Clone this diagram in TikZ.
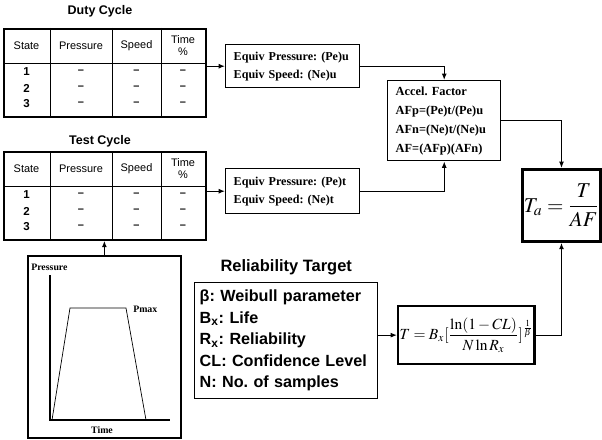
\documentclass[tikz,border=0pt]{standalone}
\usepackage{mathptmx}
\usepackage{fontspec}
\setmainfont{Liberation Serif}
\newfontfamily\arialfont{Liberation Sans}
\usetikzlibrary{arrows.meta, positioning}
\frenchspacing

\begin{document}
\begin{tikzpicture}[x=0.025cm, y=-0.025cm, >={Latex[length=4.5pt,width=3.5pt]},
  captext/.style={font=\arialfont\bfseries\fontsize{8.9}{10}\selectfont, inner sep=0pt},
  tabframe/.style={draw, line width=1.3pt, anchor=north west, minimum width=5.05cm, minimum height=2.2cm, inner sep=0pt},
  tabcell/.style={font=\arialfont\fontsize{7.8}{8.5}\selectfont, align=center, inner sep=0pt},
  tabline/.style={line width=0.6pt},
  infobox/.style={draw, line width=1pt, anchor=north west, align=left, inner xsep=0.2cm, inner ysep=0pt, font=\bfseries\fontsize{8.6}{12.8}\selectfont},
  relbox/.style={draw, line width=1pt, anchor=north west, align=left, inner xsep=0.125cm, inner ysep=0pt, text width=4.325cm, minimum height=2.9cm, font=\arialfont\bfseries\fontsize{11.5}{15.3}\selectfont},
  eqbox/.style={draw, anchor=north west, inner sep=1pt},
  charttext/.style={font=\bfseries\fontsize{7}{8}\selectfont, inner sep=0pt},
  arr/.style={->, line width=0.8pt}]

  \useasboundingbox (0,0) rectangle (602,439);

  % duty and test cycle tables
  \foreach \nm/\ty/\ttl/\capy in {duty/28/Duty Cycle/11, test/151/Test Cycle/141} {
    \node[tabframe] (\nm) at (3,\ty) {};
    \node[captext] (\nm-cap) at (100,\capy) {\ttl};
    \draw[tabline] (3,\ty+35) -- (205,\ty+35);
    \foreach \cx in {50,112,161}
      \draw[tabline] (\cx,\ty) -- (\cx,\ty+88);
    \node[tabcell] (\nm-h1) at (26.5,\ty+17.5) {State};
    \node[tabcell] (\nm-h2) at (81,\ty+17.5) {Pressure};
    \node[tabcell] (\nm-h3) at (136.5,\ty+17.5) {Speed};
    \node[tabcell] (\nm-h4) at (183,\ty+17.5) {Time\\\%};
    \foreach \rn/\dy in {1/44,2/60,3/76} {
      \node[tabcell, font=\arialfont\bfseries\fontsize{8.2}{8.5}\selectfont] (\nm-r\rn) at (26.5,\ty+\dy) {\rn};
      \foreach \cx [count=\ci] in {81,136.5,183}
        \node[tabcell, font=\arialfont\bfseries\fontsize{7.8}{8.5}\selectfont] (\nm-r\rn-\ci) at (\cx,\ty+\dy) {\textendash};
    }
  }

  % equivalent values
  \node[infobox, text width=2.95cm, minimum height=1.075cm] (equivU) at (225,44) {Equiv Pressure: (Pe)u\\Equiv Speed: (Ne)u};
  \node[infobox, text width=2.95cm, minimum height=1.125cm] (equivT) at (225,168) {Equiv Pressure: (Pe)t\\Equiv Speed: (Ne)t};
  \node[infobox, text width=2.425cm, minimum height=2.0cm, font=\bfseries\fontsize{8.8}{13.5}\selectfont] (accel) at (387,80) {Accel. Factor\\AFp=(Pe)t/(Pe)u\\AFn=(Ne)t/(Ne)u\\AF=(AFp)(AFn)};

  % test time
  \node[eqbox, line width=2pt, minimum width=1.95cm, minimum height=1.8cm, font=\fontsize{15}{17}\selectfont] (Ta) at (521,168) {$\displaystyle T_a=\frac{T}{AF}$};
  \node[eqbox, line width=1.6pt, minimum width=3.25cm, minimum height=1.45cm, font=\fontsize{11}{12}\selectfont] (formula) at (397,305) {$\displaystyle T=B_x[\frac{\ln(1-CL)}{N\ln R_x}]^{\frac{1}{\beta}}$};

  % reliability target
  \node[relbox] (reliab) at (194,282) {β: Weibull parameter\\B\textsubscript{x}: Life\\R\textsubscript{x}: Reliability\\CL: Confidence Level\\N: No. of samples};
  \node[captext, font=\arialfont\bfseries\fontsize{11.7}{13}\selectfont, above=5pt of reliab] (reltitle) {Reliability Target};

  % pressure profile
  \node[draw, line width=1.2pt, anchor=north west, minimum width=3.825cm, minimum height=4.55cm] (chart) at (27,255) {};
  \node[charttext, anchor=west] (plabel) at (31,267) {Pressure};
  \draw[line width=1.6pt] (50,275) -- (50,420) -- (170,420);
  \draw[line width=0.5pt] (52,420) -- (70,308) -- (126,308) -- (146,420);
  \node[charttext, anchor=west] (pmax) at (133,309) {Pmax};
  \node[charttext] (tlabel) at (102,430) {Time};

  \draw[arr] (equivU.west -| duty.east) -- (equivU.west);
  \draw[arr] (equivT.west -| test.east) -- (equivT.west);
  \draw[arr] (equivU.east) -| (accel.north);
  \draw[arr] (equivT.east) -| (accel.south);
  \draw[arr] (accel.east) -| (Ta.north);
  \draw[arr] (formula.east) -| (Ta.south);
  \draw[arr] (formula.west -| reliab.east) -- (formula.west);
  \draw[arr] (chart.north) -- (chart.north |- test.south);
\end{tikzpicture}
\end{document}
